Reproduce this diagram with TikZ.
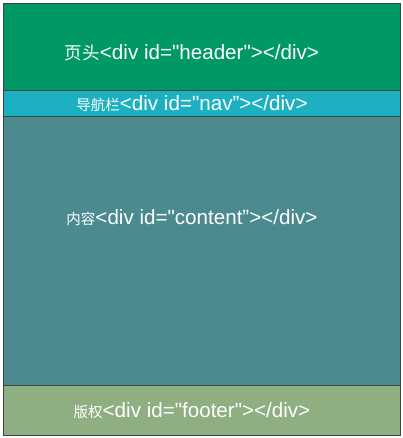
\documentclass[tikz,border=0pt]{standalone}
\usepackage{fontspec}
\setmainfont{Liberation Sans}
\newfontfamily\cjk{Noto Sans CJK SC}
\usepackage{tikz}

\definecolor{headerfill}{HTML}{009966}
\definecolor{navfill}{HTML}{1CB0C0}
\definecolor{contentfill}{HTML}{4B8B90}
\definecolor{footerfill}{HTML}{8FAF82}
\definecolor{boxline}{HTML}{3A4644}

\begin{document}
\begin{tikzpicture}[x=1pt,y=-1pt]
        \useasboundingbox (0,0) rectangle (402,438);
        \begin{scope}[every node/.style={draw=boxline,line width=0.8pt,rectangle,minimum width=397pt,inner sep=0,anchor=north west}]
                \node[fill=headerfill,minimum height=87pt] (header) at (3,3) {};
                \node[fill=navfill,minimum height=26pt] (nav) at (3,90) {};
                \node[fill=contentfill,minimum height=269pt] (content) at (3,116) {};
                \node[fill=footerfill,minimum height=50pt] (footer) at (3,385) {};
        \end{scope}
        \begin{scope}[every node/.style={text=white,inner sep=0,font=\fontsize{20.6}{24}\selectfont}]
                \node (headertext) at (192,53) {{\cjk\fontsize{17.5}{20}\selectfont 页头}<div id=\textquotedbl header\textquotedbl></div>};
                \node (navtext) at (192,104) {{\cjk\fontsize{14.5}{17}\selectfont 导航栏}<div id=\textquotedbl nav”></div>};
                \node (contenttext) at (192,218) {{\cjk\fontsize{14.5}{17}\selectfont 内容}<div id=\textquotedbl content”></div>};
                \node (footertext) at (192,411) {{\cjk\fontsize{14.5}{17}\selectfont 版权}<div id=\textquotedbl footer\textquotedbl></div>};
        \end{scope}
\end{tikzpicture}
\end{document}
